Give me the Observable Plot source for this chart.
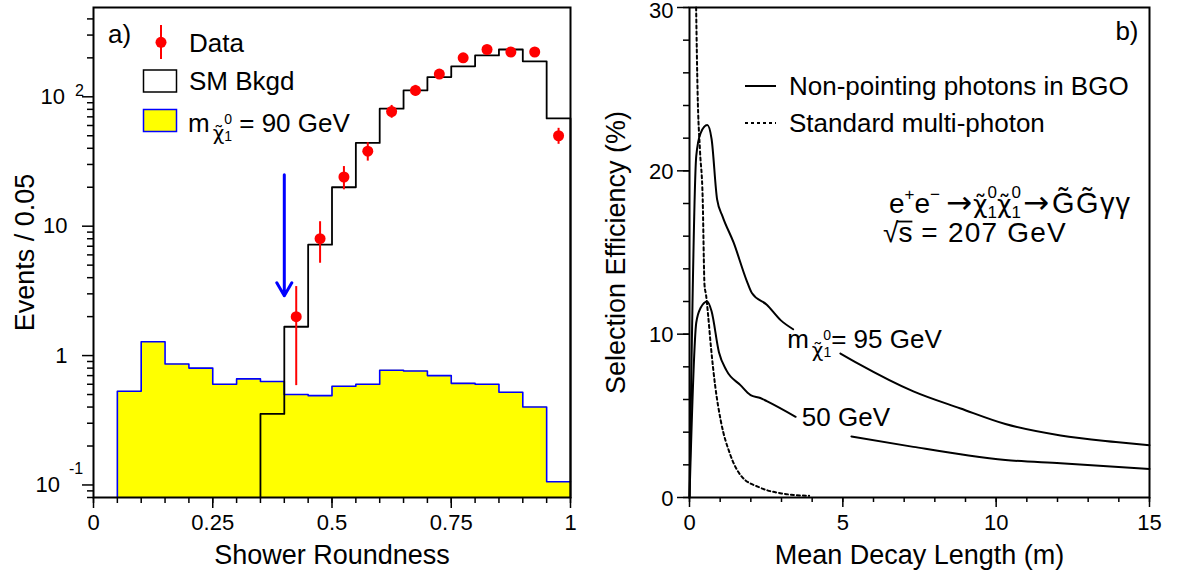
<!DOCTYPE html>
<html>
<head>
<meta charset="utf-8">
<script src="https://cdn.jsdelivr.net/npm/d3@7"></script>
<script src="https://cdn.jsdelivr.net/npm/@observablehq/plot@0.6"></script>
<style>
  html, body { margin: 0; padding: 0; background: #fff; }
  #figure { display: flex; width: 1188px; height: 575px; }
  #figure svg { display: block; }
</style>
</head>
<body>
<div id="figure"></div>
<script>
const FONT = "'Liberation Sans', Arial, Helvetica, sans-serif";
const SYMBOL_FONT = "'DejaVu Sans', sans-serif";
const TITLE_SIZE = 27, TEXT_SIZE = 26, TICK_SIZE = 22, FORMULA_SIZE = 28;

// ---------- (a) Shower roundness distribution ----------
const binWidth = 0.05;
const signalBinStart = [0.05, 0.10, 0.15, 0.20, 0.25, 0.30, 0.35, 0.40, 0.45, 0.50,
                        0.55, 0.60, 0.65, 0.70, 0.75, 0.80, 0.85, 0.90, 0.95];
const signal90 = [0.53, 1.28, 0.86, 0.80, 0.60, 0.66, 0.63, 0.50, 0.49, 0.58,
                  0.60, 0.77, 0.76, 0.70, 0.61, 0.60, 0.52, 0.40, 0.106];
const bkgdBinStart = [0.35, 0.40, 0.45, 0.50, 0.55, 0.60, 0.65, 0.70, 0.75, 0.80, 0.85, 0.90, 0.95];
const smBkgd = [0.354, 1.67, 7.2, 20, 44, 81, 112, 142, 172, 209, 232, 188, 68];
const dataRoundness = [0.425, 0.475, 0.525, 0.575, 0.625, 0.675, 0.725, 0.775, 0.825, 0.875, 0.925, 0.975];
const dataEvents = [2, 8, 24, 38, 77, 112, 150, 200, 232, 222, 222, 50];
const roundnessCut = 0.40;
const cutArrowFrom = 25, cutArrowTo = 2.9;
const roundnessTicks = [0, 0.25, 0.5, 0.75, 1];
const eventsDomain = [0.08, 490];

// ---------- (b) Selection efficiency vs mean decay length ----------
const lengthTicks = [0, 5, 10, 15];
const effTicks = [0, 10, 20, 30];
// gaps (null) where the curve passes behind its label
const len95 = [0, 0.22, 0.36, 0.58, 0.72, 0.90, 1.08, 1.44, 1.86, 2.04, 2.52, 2.97, 3.38, null,
               4.92, 5.5, 7.3, 8.84, 10.3, 12.1, 13.9, 15];
const eff95 = [0, 20.9, 22.3, 22.8, 21.95, 18.25, 17.2, 15.6, 13.3, 12.5, 11.8, 10.86, 10.3, null,
               8.82, 8.2, 6.5, 5.45, 4.5, 3.8, 3.4, 3.2];
const len50 = [0, 0.22, 0.36, 0.58, 0.72, 0.96, 1.2, 1.66, 1.99, 2.31, 2.52, 3.46, null,
               5.28, 7.3, 9.1, 10.3, 12.1, 15];
const eff50 = [0, 10.7, 11.6, 12.0, 11.4, 8.9, 7.8, 6.88, 6.27, 6.09, 5.9, 4.94, null,
               3.74, 3.1, 2.57, 2.3, 2.1, 1.75];
const lenStd = [0.216, 0.264, 0.34, 0.43, 0.49, 0.54, 0.60, 0.70, 0.84, 1.02, 1.32, 1.68, 2.28, 3.0, 3.9];
const effStd = [30, 24.8, 21.3, 18.3, 13.0, 12.4, 11.3, 9.2, 6.8, 4.7, 2.67, 1.33, 0.62, 0.25, 0.1];
const label95At = {x: 3.2, y: 9.12};
const label50At = {x: 3.68, y: 4.32};

// ---------- helpers ----------
function addRich(g, x, y, parts, size, anchor = "start") {
  const t = g.append("text").attr("x", x).attr("y", y)
    .attr("font-size", size).attr("text-anchor", anchor).attr("fill", "black");
  for (const p of parts) {
    const s = t.append("tspan").text(p.t);
    if (p.dx != null) s.attr("dx", p.dx);
    if (p.dy != null) s.attr("dy", p.dy);
    if (p.size != null) s.attr("font-size", p.size);
    if (p.font != null) s.attr("font-family", p.font);
    if (p.spacing != null) s.attr("letter-spacing", p.spacing);
    if (p.overline) s.classed("overline", true).attr("data-size", p.size || size);
  }
  return t;
}
// tilde-chi with stacked superscript 0 / subscript 1
function neutralino(chiSize, lower, supSize, up, down, gap = 3) {
  return [
    {t: "\u03C7\u0303", size: chiSize, dx: gap, dy: lower, font: SYMBOL_FONT},
    {t: "0", size: supSize, dy: -(lower + up)},
    {t: "1", size: supSize, dx: -0.556 * supSize, dy: up + down}
  ];
}

const W = 594, H = 575;
const baseStyle = {fontFamily: FONT, fontSize: TICK_SIZE + "px", background: "white", color: "black", overflow: "visible"};

// ---------- panel (a) ----------
const sigRows = signalBinStart.map((x, i) => ({x, y: signal90[i]}));
const sigArea = [...sigRows, {x: 1.0, y: signal90[signal90.length - 1]}];
const sigOutline = [{x: signalBinStart[0], y: eventsDomain[0]}, ...sigArea];
const bkgdOutline = [
  {x: bkgdBinStart[0], y: eventsDomain[0]},
  ...bkgdBinStart.map((x, i) => ({x, y: smBkgd[i]})),
  {x: 1.0, y: smBkgd[smBkgd.length - 1]},
  {x: 1.0, y: eventsDomain[0]}
];
const dataRows = dataRoundness.map((x, i) => ({x, n: dataEvents[i]}));
const minorRoundness = d3.range(0, 1.0001, binWidth);
const minorEvents = [];
for (const decade of [0.01, 0.1, 1, 10, 100])
  for (let k = 2; k <= 9; ++k) {
    const v = +(k * decade).toPrecision(3);
    if (v >= eventsDomain[0] && v <= eventsDomain[1]) minorEvents.push(v);
  }

function legendA(index, scales, values, dims) {
  const g = d3.create("svg:g").attr("font-family", FONT).attr("text-anchor", "start");
  const L = dims.marginLeft, T = dims.marginTop;
  g.append("text").attr("x", L + 15).attr("y", T + 36).attr("font-size", TEXT_SIZE).text("a)");
  // Data entry
  g.append("line").attr("x1", L + 68).attr("x2", L + 68).attr("y1", T + 18).attr("y2", T + 52)
    .attr("stroke", "red").attr("stroke-width", 2);
  g.append("circle").attr("cx", L + 68).attr("cy", T + 35.3).attr("r", 5.5).attr("fill", "red");
  g.append("text").attr("x", L + 96).attr("y", T + 44.7).attr("font-size", TEXT_SIZE).text("Data");
  // SM background entry
  g.append("rect").attr("x", L + 50.5).attr("y", T + 63).attr("width", 33).attr("height", 22)
    .attr("fill", "white").attr("stroke", "black").attr("stroke-width", 1.5);
  g.append("text").attr("x", L + 96).attr("y", T + 83).attr("font-size", TEXT_SIZE).text("SM Bkgd");
  // signal entry
  g.append("rect").attr("x", L + 50.5).attr("y", T + 102.5).attr("width", 33).attr("height", 22)
    .attr("fill", "#ffff00").attr("stroke", "#0000ff").attr("stroke-width", 1.5);
  addRich(g, L + 95, T + 124.7,
    [{t: "m"}, ...neutralino(20, 8, 14, 7.5, 9.5), {t: " = 90 GeV", dy: -9.5}], TEXT_SIZE);
  return g.node();
}

const plotA = Plot.plot({
  width: W, height: H,
  marginLeft: 93, marginRight: 24, marginTop: 7, marginBottom: 78,
  style: baseStyle,
  x: {domain: [0, 1]},
  y: {type: "log", domain: eventsDomain},
  marks: [
    Plot.areaY(sigArea, {x: "x", y1: eventsDomain[0], y2: "y", curve: "step-after", fill: "#ffff00"}),
    Plot.line(sigOutline, {x: "x", y: "y", curve: "step-after", stroke: "#0000ff", strokeWidth: 1.6}),
    Plot.line(bkgdOutline, {x: "x", y: "y", curve: "step-after", stroke: "black", strokeWidth: 1.8}),
    Plot.ruleX(dataRows, {x: "x", y1: d => d.n - Math.sqrt(d.n), y2: d => d.n + Math.sqrt(d.n), stroke: "red", strokeWidth: 2}),
    Plot.dot(dataRows, {x: "x", y: "n", r: 5.5, fill: "red", stroke: "none"}),
    Plot.arrow([{x: roundnessCut, from: cutArrowFrom, to: cutArrowTo}],
      {x1: "x", x2: "x", y1: "from", y2: "to", stroke: "#0000ff", strokeWidth: 3, headLength: 7.5}),
    Plot.axisX({ticks: minorRoundness, tickSize: 6, tickFormat: () => "", strokeWidth: 1.5, label: null}),
    Plot.axisX({ticks: roundnessTicks, tickSize: 11, tickPadding: 6, tickFormat: d => String(d),
      strokeWidth: 1.5, fontSize: TICK_SIZE, label: null}),
    Plot.axisY({ticks: minorEvents, tickSize: 6, tickFormat: () => "", strokeWidth: 1.5, label: null}),
    Plot.axisY({ticks: [0.1, 1, 10, 100], tickSize: 11, tickFormat: () => "", strokeWidth: 1.5, label: null}),
    // log-axis labels: 10^-1, 1, 10, 10^2
    Plot.text([10, 1], {y: d => d, text: d => String(d), frameAnchor: "left", dx: -26,
      textAnchor: "end", lineAnchor: "middle", fontSize: TICK_SIZE}),
    Plot.text([100], {y: d => d, text: () => "10", frameAnchor: "left", dx: -28.5,
      textAnchor: "end", lineAnchor: "middle", fontSize: TICK_SIZE}),
    Plot.text([100], {y: d => d, text: d => String(Math.round(Math.log10(d))), frameAnchor: "left",
      dx: -18.5, dy: -1, textAnchor: "start", lineAnchor: "bottom", fontSize: 16}),
    Plot.text([0.1], {y: d => d, text: () => "10", frameAnchor: "left", dx: -33.5,
      textAnchor: "end", lineAnchor: "middle", fontSize: TICK_SIZE}),
    Plot.text([0.1], {y: d => d, text: d => String(Math.round(Math.log10(d))), frameAnchor: "left",
      dx: -24.5, dy: -11, textAnchor: "start", lineAnchor: "bottom", fontSize: 16}),
    Plot.frame({stroke: "black", strokeWidth: 2}),
    Plot.text(["Events / 0.05"], {text: d => d, frameAnchor: "left", dx: -60, rotate: -90,
      textAnchor: "middle", lineAnchor: "bottom", fontSize: TITLE_SIZE}),
    Plot.text(["Shower Roundness"], {text: d => d, frameAnchor: "bottom", dy: 66,
      textAnchor: "middle", lineAnchor: "bottom", fontSize: TITLE_SIZE}),
    legendA
  ]
});

// ---------- panel (b) ----------
const rows = (xs, ys) => xs.map((x, i) => ({x, y: ys[i]}));

function legendB(index, scales, values, dims) {
  const g = d3.create("svg:g").attr("font-family", FONT).attr("text-anchor", "start");
  const L = dims.marginLeft, T = dims.marginTop, R = dims.width - dims.marginRight;
  g.append("text").attr("x", R - 10.5).attr("y", T + 33).attr("font-size", TEXT_SIZE)
    .attr("text-anchor", "end").text("b)");
  g.append("line").attr("x1", L + 56).attr("x2", L + 87).attr("y1", T + 79).attr("y2", T + 79)
    .attr("stroke", "black").attr("stroke-width", 2);
  g.append("text").attr("x", L + 100).attr("y", T + 87.6).attr("font-size", TEXT_SIZE)
    .text("Non-pointing photons in BGO");
  g.append("line").attr("x1", L + 56).attr("x2", L + 87).attr("y1", T + 116).attr("y2", T + 116)
    .attr("stroke", "black").attr("stroke-width", 2).attr("stroke-dasharray", "3,3");
  g.append("text").attr("x", L + 100).attr("y", T + 124.7).attr("font-size", TEXT_SIZE)
    .text("Standard multi-photon");
  // process and energy
  const arrow = (dx, dy) => ({t: "\u2192", dx, dy, size: 31, font: SYMBOL_FONT});
  addRich(g, L + 200, T + 206, [
    {t: "e"}, {t: "+", size: 17, dy: -13}, {t: "e", dy: 13}, {t: "\u2212", size: 17, dy: -13},
    arrow(6, 13),
    {t: "\u03C7\u0303", dx: 1, font: SYMBOL_FONT, size: 25}, {t: "0", size: 17, dy: -15}, {t: "1", size: 17, dx: -9.45, dy: 19.5},
    {t: "\u03C7\u0303", dy: -4.5, font: SYMBOL_FONT, size: 25}, {t: "0", size: 17, dy: -15}, {t: "1", size: 17, dx: -9.45, dy: 19.5},
    arrow(2, -4.5),
    {t: "G\u0303G\u0303", dx: 3, spacing: 1.5, size: 29},
    {t: "\u03B3\u03B3", spacing: 1, size: 29}
  ], FORMULA_SIZE);
  addRich(g, L + 194, T + 234.7,
    [{t: "\u221A"}, {t: "s", overline: true}, {t: " = 207 GeV", spacing: 1.2}], FORMULA_SIZE);
  // curve labels
  addRich(g, scales.x(label95At.x), scales.y(label95At.y),
    [{t: "m"}, ...neutralino(20, 8.5, 14, 8, 9), {t: "= 95 GeV", dy: -9}], TEXT_SIZE);
  addRich(g, scales.x(label50At.x), scales.y(label50At.y), [{t: "50 GeV"}], TEXT_SIZE);
  return g.node();
}

const plotB = Plot.plot({
  width: W, height: H,
  marginLeft: 95, marginRight: 39, marginTop: 7, marginBottom: 78,
  style: baseStyle,
  x: {domain: [0, 15]},
  y: {domain: [0, 30]},
  marks: [
    Plot.line(rows(len95, eff95), {x: "x", y: "y", curve: "monotone-x", stroke: "black", strokeWidth: 2}),
    Plot.line(rows(len50, eff50), {x: "x", y: "y", curve: "monotone-x", stroke: "black", strokeWidth: 2}),
    Plot.line(rows(lenStd, effStd), {x: "x", y: "y", curve: "monotone-x", stroke: "black",
      strokeWidth: 2, strokeDasharray: "3,3"}),
    Plot.axisX({ticks: d3.range(0, 16, 1), tickSize: 5, tickFormat: () => "", strokeWidth: 1.5, label: null}),
    Plot.axisX({ticks: lengthTicks, tickSize: 10, tickPadding: 7, tickFormat: d => String(d),
      strokeWidth: 1.5, fontSize: TICK_SIZE, label: null}),
    Plot.axisY({ticks: d3.range(0, 31, 2), tickSize: 6, tickFormat: () => "", strokeWidth: 1.5, label: null}),
    Plot.axisY({ticks: effTicks, tickSize: 12, tickFormat: () => "", strokeWidth: 1.5, label: null}),
    Plot.text(effTicks.slice(0, -1), {y: d => d, text: d => String(d), frameAnchor: "left", dx: -16, dy: 1,
      textAnchor: "end", lineAnchor: "middle", fontSize: TICK_SIZE}),
    // top label kept inside the page
    Plot.text(effTicks.slice(-1), {y: d => d, text: d => String(d), frameAnchor: "left", dx: -16, dy: 3.5,
      textAnchor: "end", lineAnchor: "middle", fontSize: TICK_SIZE}),
    Plot.frame({stroke: "black", strokeWidth: 2}),
    Plot.text(["Selection Efficiency (%)"], {text: d => d, frameAnchor: "left", dx: -65, rotate: -90,
      textAnchor: "middle", lineAnchor: "bottom", fontSize: TITLE_SIZE}),
    Plot.text(["Mean Decay Length (m)"], {text: d => d, frameAnchor: "bottom", dy: 66,
      textAnchor: "middle", lineAnchor: "bottom", fontSize: TITLE_SIZE}),
    legendB
  ]
});

const fig = document.getElementById("figure");
fig.append(plotA, plotB);

// radical sign vinculum over the "s"
document.querySelectorAll("tspan.overline").forEach((ts) => {
  const text = ts.parentNode;
  const size = +ts.getAttribute("data-size");
  const bb = ts.getBBox();
  const y = +text.getAttribute("y") - 0.72 * size;
  d3.select(text.parentNode).append("line")
    .attr("x1", bb.x - 1.5).attr("x2", bb.x + bb.width)
    .attr("y1", y).attr("y2", y)
    .attr("stroke", "black").attr("stroke-width", 1.8);
});
</script>
</body>
</html>
